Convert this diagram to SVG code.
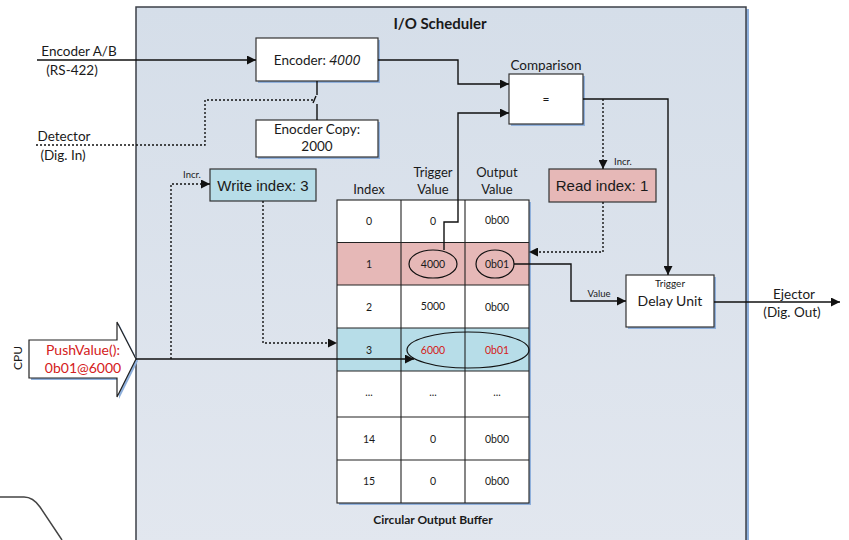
<svg xmlns="http://www.w3.org/2000/svg" width="849" height="540" viewBox="0 0 849 540">
<style>
.t{font-family:Lato,"Liberation Sans",sans-serif;fill:#1a1a1a}
.a{font-family:"Liberation Sans",Arial,sans-serif;fill:#1a1a1a}
.box{fill:#fff;stroke:#333;stroke-width:1.2}
.sh{fill:#8fb0dc}
.ln{fill:none;stroke:#111;stroke-width:1.4}
.dt{fill:none;stroke:#111;stroke-width:1.4;stroke-dasharray:2 2}
.red{fill:#d42020}
</style>
<defs>
<linearGradient id="bg" x1="0" y1="0" x2="0" y2="1">
<stop offset="0" stop-color="#d5dee9"/>
<stop offset="1" stop-color="#e2e7ef"/>
</linearGradient>
<marker id="ar" viewBox="0 0 10 10" refX="10" refY="5" markerWidth="9" markerHeight="9" markerUnits="userSpaceOnUse" orient="auto">
<path d="M0,0 L10,5 L0,10 z" fill="#111"/>
</marker>
</defs>
<rect width="849" height="540" fill="#fff"/>
<path d="M0,497 L24,497 Q33,497 40,507 L62,540" fill="none" stroke="#444" stroke-width="1.5"/>
<g id="scheduler">
<rect x="138" y="9" width="611" height="540" class="sh"/>
<rect x="136" y="7" width="610" height="540" fill="url(#bg)" stroke="#3c4048" stroke-width="1.5"/>
<text x="440" y="29" class="t" font-size="15" font-weight="bold" text-anchor="middle">I/O Scheduler</text>
<text x="433" y="524" class="t" font-size="12" font-weight="bold" text-anchor="middle">Circular Output Buffer</text>
</g>
<g id="encoder">
<rect x="258" y="40" width="122" height="43" class="sh"/>
<rect x="256" y="38" width="122" height="43" class="box"/>
<text x="317" y="65" class="t" font-size="13.5" text-anchor="middle">Encoder: <tspan font-family="'Open Sans','Liberation Sans',sans-serif" font-style="italic" font-size="14">4000</tspan></text>
</g>
<g id="encoder-copy">
<rect x="258" y="122" width="122" height="37" class="sh"/>
<rect x="256" y="120" width="122" height="37" class="box"/>
<text x="317" y="134" class="t" font-size="13.5" text-anchor="middle">Enocder Copy:</text>
<text x="317" y="151" class="t" font-size="13.5" text-anchor="middle">2000</text>
</g>
<g id="comparison">
<rect x="511" y="76" width="74" height="50" class="sh"/>
<rect x="509" y="74" width="74" height="50" class="box"/>
<text x="546" y="70" class="t" font-size="13.5" text-anchor="middle">Comparison</text>
<text x="546" y="103" class="t" font-size="12" text-anchor="middle">=</text>
</g>
<g id="write-index">
<rect x="210" y="169" width="106" height="32" fill="#b7dde8" stroke="#333" stroke-width="1.2"/>
<text x="263" y="191" class="a" font-size="15" text-anchor="middle">Write index: 3</text>
</g>
<g id="read-index">
<rect x="549" y="169" width="107" height="33" fill="#e6b8b7" stroke="#333" stroke-width="1.2"/>
<text x="602" y="191" class="a" font-size="15" text-anchor="middle">Read index: 1</text>
</g>
<g id="delay-unit">
<rect x="628" y="277" width="88" height="52" class="sh"/>
<rect x="626" y="275" width="88" height="52" class="box"/>
<text x="670" y="287" class="t" font-size="10" text-anchor="middle">Trigger</text>
<text x="670" y="306" class="t" font-size="14" text-anchor="middle">Delay Unit</text>
</g>
<g id="cpu">
<path d="M31,342 L119,342 L119,324 L138,361 L119,399 L119,380 L31,380 z" fill="#8fb0dc"/>
<path d="M29,340 L117,340 L117,322 L136,359 L117,397 L117,378 L29,378 z" fill="#fff" stroke="#222" stroke-width="1.2"/>
<text x="83" y="355" class="t red" font-size="14" text-anchor="middle">PushValue():</text>
<text x="83" y="373" class="t red" font-size="14" text-anchor="middle">0b01@6000</text>
<text x="22" y="358" class="t" font-size="12" text-anchor="middle" transform="rotate(-90 22 358)">CPU</text>
</g>
<g id="buffer">
<rect x="339" y="202" width="192" height="303" class="sh"/>
<rect x="337" y="200" width="192" height="303" fill="#fff"/>
<rect x="337" y="242.5" width="192" height="42.5" fill="#e6b8b7"/>
<rect x="337" y="328" width="192" height="43" fill="#b7dde8"/>
<g stroke="#222" stroke-width="1.1" fill="none">
<rect x="337" y="200" width="192" height="303"/>
<line x1="401" y1="200" x2="401" y2="503"/>
<line x1="465" y1="200" x2="465" y2="503"/>
<line x1="337" y1="242.5" x2="529" y2="242.5"/>
<line x1="337" y1="285" x2="529" y2="285"/>
<line x1="337" y1="328" x2="529" y2="328"/>
<line x1="337" y1="371" x2="529" y2="371"/>
<line x1="337" y1="417" x2="529" y2="417"/>
<line x1="337" y1="460" x2="529" y2="460"/>
</g>
<text x="369" y="194" class="t" font-size="13" text-anchor="middle">Index</text>
<text x="433" y="177" class="t" font-size="13" text-anchor="middle">Trigger</text>
<text x="433" y="194" class="t" font-size="13" text-anchor="middle">Value</text>
<text x="497" y="177" class="t" font-size="13" text-anchor="middle">Output</text>
<text x="497" y="194" class="t" font-size="13" text-anchor="middle">Value</text>
<g class="t" font-size="10.5" text-anchor="middle">
<text x="369" y="225">0</text><text x="433" y="225">0</text><text x="497" y="224">0b00</text>
<text x="369" y="268">1</text><text x="433" y="268">4000</text><text x="497" y="268">0b01</text>
<text x="369" y="311">2</text><text x="433" y="310">5000</text><text x="497" y="311">0b00</text>
<text x="369" y="354">3</text><text x="433" y="354" class="red">6000</text><text x="497" y="354" class="red">0b01</text>
<text x="369" y="396">...</text><text x="433" y="396">...</text><text x="497" y="396">...</text>
<text x="369" y="443">14</text><text x="433" y="443">0</text><text x="497" y="443">0b00</text>
<text x="369" y="485">15</text><text x="433" y="485">0</text><text x="497" y="485">0b00</text>
</g>
<ellipse cx="433" cy="264" rx="24" ry="14" fill="none" stroke="#111" stroke-width="1.2"/>
<ellipse cx="495" cy="264" rx="19" ry="14" fill="none" stroke="#111" stroke-width="1.2"/>
<ellipse cx="468" cy="350" rx="61" ry="18" fill="none" stroke="#111" stroke-width="1.2"/>
</g>
<g id="connectors">
<line x1="37" y1="60" x2="256" y2="60" class="ln" marker-end="url(#ar)"/>
<path d="M378,60 H458 V84 H509" class="ln" marker-end="url(#ar)"/>
<path d="M444,250 V222 H458 V113 H509" class="ln" marker-end="url(#ar)"/>
<path d="M583,99 H668 V275" class="ln" marker-end="url(#ar)"/>
<path d="M603,99 V169" class="dt" marker-end="url(#ar)"/>
<path d="M603,202 V252 H529" class="dt" marker-end="url(#ar)"/>
<path d="M514,264 H571 V301 H626" class="ln" marker-end="url(#ar)"/>
<line x1="714" y1="302" x2="840" y2="302" class="ln" marker-end="url(#ar)"/>
<line x1="136" y1="359" x2="414" y2="359" class="ln" marker-end="url(#ar)"/>
<path d="M171,359 V184 H210" class="dt" marker-end="url(#ar)"/>
<path d="M263,201 V343 H337" class="dt" marker-end="url(#ar)"/>
<path d="M36,145 H205 V100 H313" class="dt"/>
<line x1="313" y1="103" x2="316" y2="96" class="ln"/>
<line x1="317" y1="81" x2="317" y2="95" class="ln"/>
<line x1="317" y1="104" x2="317" y2="120" class="ln"/>
<text x="79" y="56" class="t" font-size="13.5" text-anchor="middle">Encoder A/B</text>
<text x="72" y="75" class="t" font-size="13.5" text-anchor="middle">(RS-422)</text>
<text x="64" y="141" class="t" font-size="13.5" text-anchor="middle">Detector</text>
<text x="63" y="160" class="t" font-size="13.5" text-anchor="middle">(Dig. In)</text>
<text x="192" y="178" class="t" font-size="9.5" text-anchor="middle">Incr.</text>
<text x="623" y="165" class="t" font-size="9.5" text-anchor="middle">Incr.</text>
<text x="599" y="297" class="t" font-size="9.5" text-anchor="middle">Value</text>
<text x="794" y="299" class="t" font-size="13.5" text-anchor="middle">Ejector</text>
<text x="792" y="317" class="t" font-size="13.5" text-anchor="middle">(Dig. Out)</text>
</g>
</svg>
